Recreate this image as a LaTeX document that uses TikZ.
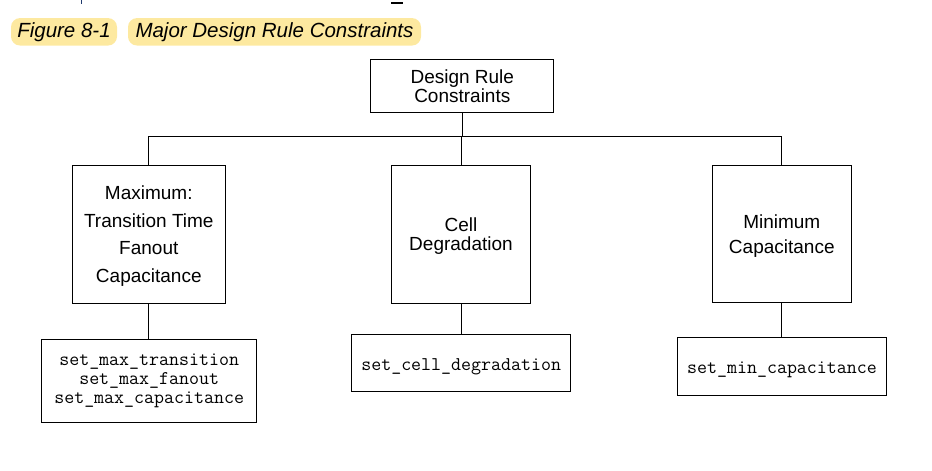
\documentclass[tikz,border=0pt]{standalone}
\usepackage{fontspec}
\setmainfont{Liberation Sans}
\definecolor{pillc}{HTML}{FDE9A0}
\definecolor{fragblue}{HTML}{1F3A6E}
\begin{document}
\begin{tikzpicture}[x=1pt,y=-1pt,
  box/.style={draw, line width=1pt, inner sep=0pt, align=center, text depth=0pt, font=\fontsize{19}{19}\selectfont},
  cmd/.style={draw, line width=1pt, inner sep=0pt, align=center, font=\ttfamily\fontsize{19.4}{18.7}\selectfont},
  onecmd/.style={cmd, text depth=0pt, text height=15pt},
  pill/.style={fill=pillc, rounded corners=9pt, inner sep=0pt, minimum height=27.5pt, font=\fontsize{20.5}{20.5}\selectfont\itshape},
  conn/.style={line width=1pt}]
\useasboundingbox (0,0) rectangle (932,471);
% cut-off fragments of the line above
\draw[fragblue, line width=1pt] (81,0) -- (81,3.5);
\draw[line width=1.5pt] (391,3) -- (403,3);
% caption
\node[pill, minimum width=106pt] (fig) at (64,31.8) {Figure 8-1};
\node[pill, minimum width=293pt] (cap) at (274.5,31.8) {Major Design Rule Constraints};
% boxes
\node[box, minimum width=183.3pt, minimum height=53pt] (top) at (462.3,85.8) {Design Rule\\Constraints};
\node[box, minimum width=153pt, minimum height=138.3pt, font=\fontsize{19}{27.5}\selectfont] (lbox) at (148.8,234.2) {Maximum:\\Transition Time\\Fanout\\Capacitance};
\node[box, minimum width=139.4pt, minimum height=138pt] (mbox) at (461,234.3) {Cell\\Degradation};
\node[box, minimum width=139pt, minimum height=137.3pt, font=\fontsize{19}{25}\selectfont] (rbox) at (781.8,234.3) {Minimum\\Capacitance};
\node[cmd, minimum width=215pt, minimum height=83.4pt] (lcmd) at (149.2,381) {set\_max\_transition\\set\_max\_fanout\\set\_max\_capacitance};
\node[onecmd, minimum width=219pt, minimum height=57.4pt] (mcmd) at (461.2,363) {set\_cell\_degradation};
\node[onecmd, minimum width=209.4pt, minimum height=58pt] (rcmd) at (782,366.3) {set\_min\_capacitance};
% connectors
\coordinate (bus) at (462.3,136);
\draw[conn] (top.south) -- (bus);
\draw[conn] (lbox.north) -- (lbox.north |- bus) -- (rbox.north |- bus) -- (rbox.north);
\draw[conn] (mbox.north) -- (mbox.north |- bus);
\draw[conn] (lbox.south) -- (lcmd.north -| lbox.south);
\draw[conn] (mbox.south) -- (mcmd.north -| mbox.south);
\draw[conn] (rbox.south) -- (rcmd.north -| rbox.south);
\end{tikzpicture}
\end{document}
